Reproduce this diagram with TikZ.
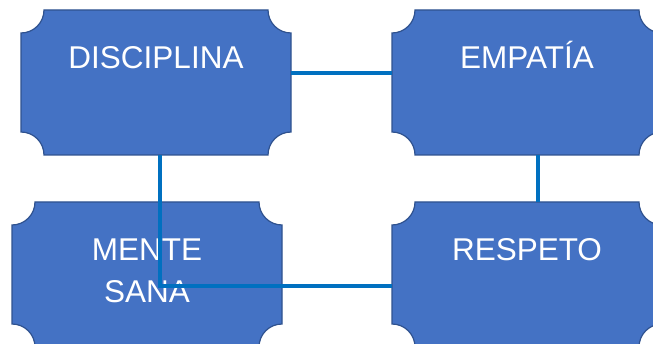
\documentclass[tikz,border=0pt]{standalone}
\usepackage{fontspec}
\setmainfont{Liberation Sans}
\usetikzlibrary{positioning,backgrounds}

\definecolor{boxblue}{HTML}{4472C4}
\definecolor{boxedge}{HTML}{2F528F}
\definecolor{linkblue}{HTML}{0070C0}

% plaque outline round a named box node
\newcommand{\plaque}[1]{%
  \filldraw[fill=boxblue,draw=boxedge,line width=1.2pt]
    ([xshift=23pt]#1.north west) -- ([xshift=-23pt]#1.north east)
    arc[start angle=180,end angle=270,radius=23pt]
    -- ([yshift=23pt]#1.south east)
    arc[start angle=90,end angle=180,radius=23pt]
    -- ([xshift=23pt]#1.south west)
    arc[start angle=0,end angle=90,radius=23pt]
    -- ([yshift=-23pt]#1.north west)
    arc[start angle=270,end angle=360,radius=23pt] -- cycle;}

\begin{document}
\begin{tikzpicture}[x=1pt,y=1pt,
  box/.style={minimum width=270pt,minimum height=145pt,inner sep=0pt,outer sep=0pt},
  caption/.style={anchor=base,text=white,align=center,inner sep=0pt,
    font=\fontsize{31.5pt}{42pt}\selectfont},
  link/.style={draw=linkblue,line width=4.5pt}]
  \useasboundingbox (0,0) rectangle (653,343);

  \node[box]                           (dis) at (156,260.5) {};
  \node[box, right=101pt of dis]       (emp) {};
  \node[box, below=47pt of dis, xshift=-9pt] (men) {};
  \node[box, below=47pt of emp]        (res) {};

  \begin{scope}[on background layer]
    \foreach \b in {dis,emp,men,res} {\plaque{\b}}
  \end{scope}

  \node[caption] (disT) at ([yshift=-58.5pt]dis.north) {DISCIPLINA};
  \node[caption] (empT) at ([yshift=-58.5pt]emp.north) {EMPATÍA};
  % base of a two-line caption is its last line
  \node[caption] (menT) at ([yshift=-100.5pt]men.north) {MENTE\\SANA};
  \node[caption] (resT) at ([yshift=-58.5pt]res.north) {RESPETO};

  \path[link] ([yshift=9.5pt]dis.east) -- ([yshift=9.5pt]emp.west)
        ([xshift=11pt]emp.south) -- ([xshift=11pt]emp.south |- res.north)
        ([xshift=4pt]dis.south) |- ([yshift=-11.5pt]res.west);
\end{tikzpicture}
\end{document}
